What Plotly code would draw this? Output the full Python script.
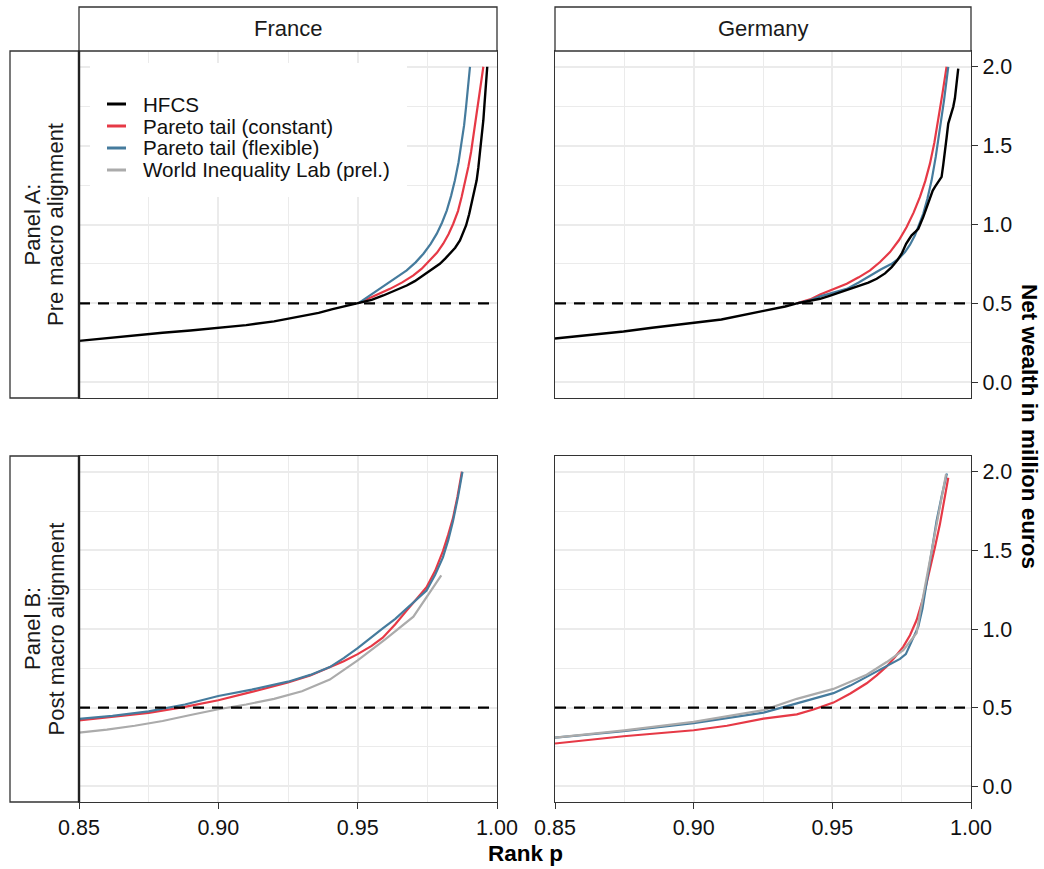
import plotly.graph_objects as go

W, H = 1044, 869

# ---------------- data ----------------
# Panel A (pre macro alignment) - France
fr_pre_hfcs_p = [0.850, 0.860, 0.870, 0.875, 0.880, 0.890, 0.900, 0.910, 0.920, 0.925, 0.930, 0.936,
                 0.941, 0.946, 0.9502, 0.9550, 0.9592, 0.9635, 0.9676, 0.9705, 0.9736, 0.9765, 0.9795,
                 0.9815, 0.9831, 0.9850, 0.9867, 0.9880, 0.9889, 0.9900, 0.9909, 0.9918, 0.9927, 0.9933,
                 0.9939, 0.9946, 0.9951, 0.9955, 0.9959, 0.9965]
fr_pre_hfcs_v = [0.262, 0.280, 0.297, 0.307, 0.314, 0.328, 0.343, 0.362, 0.386, 0.402, 0.418, 0.440,
                 0.463, 0.485, 0.500, 0.522, 0.550, 0.580, 0.613, 0.641, 0.677, 0.715, 0.751,
                 0.785, 0.815, 0.853, 0.899, 0.950, 0.994, 1.065, 1.132, 1.205, 1.280, 1.360,
                 1.450, 1.560, 1.661, 1.760, 1.852, 2.000]
fr_pre_const_p = [0.9502, 0.9560, 0.9616, 0.9660, 0.9700, 0.9730, 0.9760, 0.9785, 0.9807, 0.9826, 0.9843,
                  0.9860, 0.9873, 0.9886, 0.9897, 0.9907, 0.9915, 0.9925, 0.9933, 0.9942, 0.9951]
fr_pre_const_v = [0.500, 0.545, 0.592, 0.633, 0.677, 0.720, 0.772, 0.822, 0.878, 0.938, 1.005,
                  1.085, 1.175, 1.270, 1.365, 1.460, 1.556, 1.665, 1.767, 1.885, 2.000]
fr_pre_flex_p = [0.9502, 0.9550, 0.9592, 0.9635, 0.9676, 0.9708, 0.9736, 0.9762, 0.9784, 0.9803, 0.9820,
                 0.9835, 0.9849, 0.9862, 0.9873, 0.9882, 0.9889, 0.9896, 0.9903]
fr_pre_flex_v = [0.500, 0.558, 0.613, 0.660, 0.709, 0.760, 0.815, 0.877, 0.942, 1.013, 1.090,
                 1.180, 1.280, 1.395, 1.513, 1.630, 1.746, 1.870, 2.000]

# Panel A (pre macro alignment) - Germany
de_pre_hfcs_p = [0.850, 0.860, 0.8747, 0.885, 0.900, 0.910, 0.9252, 0.9330, 0.9372, 0.9420, 0.9456, 0.9490,
                 0.9528, 0.9565, 0.9600, 0.9630, 0.9660, 0.9690, 0.9714, 0.9735, 0.9750, 0.9758, 0.9766,
                 0.9776, 0.9786, 0.9800, 0.9810, 0.9828, 0.9840, 0.9852, 0.9862, 0.9870, 0.9882, 0.9894,
                 0.9900, 0.9906, 0.9912, 0.9918, 0.9928, 0.9936, 0.9942, 0.9946, 0.9950, 0.9954]
de_pre_hfcs_v = [0.277, 0.295, 0.322, 0.345, 0.375, 0.398, 0.452, 0.480, 0.500, 0.516, 0.529, 0.548,
                 0.571, 0.592, 0.613, 0.632, 0.656, 0.690, 0.730, 0.775, 0.815, 0.850, 0.878,
                 0.905, 0.931, 0.955, 0.973, 1.048, 1.110, 1.175, 1.215, 1.238, 1.270, 1.302,
                 1.380, 1.450, 1.550, 1.640, 1.700, 1.746, 1.800, 1.852, 1.920, 1.989]
de_pre_const_p = [0.9372, 0.9420, 0.9456, 0.9504, 0.9552, 0.9595, 0.9636, 0.9672, 0.9708, 0.9740, 0.9768,
                  0.9793, 0.9816, 0.9835, 0.9852, 0.9868, 0.9882, 0.9897, 0.9912]
de_pre_const_v = [0.500, 0.525, 0.556, 0.590, 0.624, 0.665, 0.709, 0.762, 0.825, 0.900, 0.984,
                  1.075, 1.175, 1.275, 1.386, 1.520, 1.661, 1.830, 2.000]
de_pre_flex_p = [0.9372, 0.9420, 0.9456, 0.9504, 0.9552, 0.9595, 0.9636, 0.9676, 0.9714, 0.9740, 0.9762,
                 0.9780, 0.9798, 0.9813, 0.9828, 0.9843, 0.9858, 0.9873, 0.9888, 0.9903, 0.9918]
de_pre_flex_v = [0.500, 0.520, 0.544, 0.566, 0.592, 0.632, 0.677, 0.716, 0.751, 0.785, 0.825,
                 0.872, 0.931, 0.995, 1.069, 1.165, 1.280, 1.430, 1.598, 1.790, 2.000]

# Panel B (post macro alignment) - France
fr_post_const_p = [0.850, 0.862, 0.875, 0.888, 0.900, 0.912, 0.925, 0.933, 0.940, 0.945, 0.950, 0.955,
                   0.959, 0.9635, 0.9675, 0.9712, 0.9747, 0.9778, 0.9806, 0.9825, 0.9842, 0.9858, 0.9874]
fr_post_const_v = [0.419, 0.440, 0.467, 0.505, 0.547, 0.600, 0.660, 0.705, 0.755, 0.795, 0.840, 0.893,
                   0.945, 1.030, 1.115, 1.190, 1.265, 1.370, 1.495, 1.600, 1.705, 1.840, 2.000]
fr_post_flex_p = [0.850, 0.862, 0.875, 0.888, 0.900, 0.912, 0.925, 0.933, 0.940, 0.945, 0.950, 0.955,
                  0.959, 0.9635, 0.9675, 0.9712, 0.9747, 0.9778, 0.9806, 0.9825, 0.9842, 0.9860, 0.9876]
fr_post_flex_v = [0.429, 0.448, 0.476, 0.520, 0.574, 0.615, 0.665, 0.708, 0.758, 0.815, 0.878, 0.945,
                  1.004, 1.065, 1.128, 1.185, 1.245, 1.345, 1.455, 1.565, 1.685, 1.840, 2.000]
fr_post_wil_p = [0.85, 0.86, 0.87, 0.88, 0.89, 0.90, 0.91, 0.92, 0.93, 0.94, 0.95, 0.96, 0.97, 0.98]
fr_post_wil_v = [0.341, 0.360, 0.385, 0.415, 0.453, 0.490, 0.520, 0.556, 0.604, 0.678, 0.800, 0.935,
                 1.078, 1.341]

# Panel B (post macro alignment) - Germany
de_post_const_p = [0.850, 0.8747, 0.900, 0.912, 0.9252, 0.9372, 0.9432, 0.9504, 0.9565, 0.9624, 0.9660,
                   0.9696, 0.9726, 0.9756, 0.9780, 0.9804, 0.9828, 0.9852, 0.9870, 0.9888, 0.9904, 0.9918]
de_post_const_v = [0.272, 0.318, 0.356, 0.385, 0.430, 0.457, 0.488, 0.532, 0.590, 0.655, 0.705,
                   0.762, 0.822, 0.888, 0.960, 1.057, 1.200, 1.373, 1.520, 1.667, 1.820, 1.962]
de_post_flex_p = [0.850, 0.8747, 0.900, 0.9252, 0.9372, 0.9504, 0.9565, 0.9624, 0.9696, 0.9744, 0.9765,
                  0.9780, 0.9795, 0.9810, 0.9825, 0.9840, 0.9858, 0.9876, 0.9895, 0.9913]
de_post_flex_v = [0.309, 0.350, 0.402, 0.468, 0.527, 0.592, 0.640, 0.697, 0.765, 0.810, 0.840,
                  0.900, 0.955, 1.015, 1.130, 1.300, 1.480, 1.688, 1.850, 1.989]
de_post_wil_p = [0.850, 0.875, 0.900, 0.9252, 0.9372, 0.9504, 0.9624, 0.9696, 0.9756, 0.9804, 0.9816,
                 0.9840, 0.9864, 0.9885, 0.9906, 0.9910]
de_post_wil_v = [0.309, 0.355, 0.410, 0.484, 0.556, 0.619, 0.709, 0.790, 0.865, 0.975, 1.099,
                 1.320, 1.541, 1.740, 1.941, 1.985]

threshold = 0.5

series_names = ["HFCS", "Pareto tail (constant)", "Pareto tail (flexible)", "World Inequality Lab (prel.)"]
colors = ["#000000", "#E63946", "#457B9D", "#ABABAB"]
countries = ["France", "Germany"]
panel_lines = [("Panel A:", "Pre macro alignment"), ("Panel B:", "Post macro alignment")]
x_ticks = [0.85, 0.90, 0.95, 1.00]
y_ticks = [0.0, 0.5, 1.0, 1.5, 2.0]

# ---------------- layout geometry (pixels) ----------------
FONT = "Liberation Sans, Arial, Helvetica, sans-serif"
col_px = [(79, 497), (555, 971)]
row_px = [(51, 398), (456, 802)]
strip_top = 7
strip_left = 10


def px_x(v):
    return v / W


def px_y(v):
    return 1 - v / H


fig = go.Figure()

panel_data = {
    (0, 0): [(1, fr_pre_const_p, fr_pre_const_v), (2, fr_pre_flex_p, fr_pre_flex_v),
             (0, fr_pre_hfcs_p, fr_pre_hfcs_v)],
    (0, 1): [(1, de_pre_const_p, de_pre_const_v), (2, de_pre_flex_p, de_pre_flex_v),
             (0, de_pre_hfcs_p, de_pre_hfcs_v)],
    (1, 0): [(1, fr_post_const_p, fr_post_const_v), (2, fr_post_flex_p, fr_post_flex_v),
             (3, fr_post_wil_p, fr_post_wil_v)],
    (1, 1): [(1, de_post_const_p, de_post_const_v), (2, de_post_flex_p, de_post_flex_v),
             (3, de_post_wil_p, de_post_wil_v)],
}

TICK_SIZE = 21.5
shapes = []
annotations = []
axis_idx = 0
for r in range(2):
    for c in range(2):
        axis_idx += 1
        sfx = "" if axis_idx == 1 else str(axis_idx)
        xa, ya = "x" + sfx, "y" + sfx
        x0, x1 = col_px[c]
        y0, y1 = row_px[r]
        for si, p, v in panel_data[(r, c)]:
            fig.add_trace(go.Scatter(
                x=p, y=v, mode="lines", name=series_names[si],
                line=dict(color=colors[si], width=2.4 if si == 0 else 2.2),
                xaxis=xa, yaxis=ya, showlegend=False, hoverinfo="skip"))
        fig.add_trace(go.Scatter(
            x=[x_ticks[0], x_ticks[-1]], y=[threshold, threshold], mode="lines",
            line=dict(color="#000000", width=2.2, dash="11px,8px"),
            xaxis=xa, yaxis=ya, showlegend=False, hoverinfo="skip"))

        bottom = (r == 1)
        right = (c == 1)
        fig.update_layout(**{
            ("xaxis" + sfx): dict(
                domain=[px_x(x0), px_x(x1)], anchor=ya, range=[0.85, 1.0],
                tickvals=x_ticks, ticktext=[f"{t:.2f}" for t in x_ticks],
                showticklabels=bottom, ticks="outside" if bottom else "",
                ticklen=6, tickwidth=1.2, tickcolor="#333333",
                tickfont=dict(size=TICK_SIZE, color="#111111", family=FONT),
                showgrid=True, gridcolor="#EBEBEB", gridwidth=2,
                minor=dict(dtick=0.025, tick0=0.85, showgrid=True, gridcolor="#EBEBEB", gridwidth=1),
                showline=True, mirror=True, linecolor="#333333", linewidth=1.2,
                zeroline=False, fixedrange=True, automargin=False),
            ("yaxis" + sfx): dict(
                domain=[px_y(y1), px_y(y0)], anchor=xa, range=[-0.1, 2.1],
                tickvals=y_ticks, ticktext=[f"{t:.1f}" for t in y_ticks],
                side="right", showticklabels=right, ticks="outside" if right else "",
                ticklen=6, tickwidth=1.2, tickcolor="#333333",
                tickfont=dict(size=TICK_SIZE, color="#111111", family=FONT),
                showgrid=True, gridcolor="#EBEBEB", gridwidth=2,
                minor=dict(dtick=0.25, tick0=0, showgrid=True, gridcolor="#EBEBEB", gridwidth=1),
                showline=True, mirror=True, linecolor="#333333", linewidth=1.2,
                zeroline=False, fixedrange=True, automargin=False),
        })

# top strips
for c in range(2):
    x0, x1 = col_px[c]
    shapes.append(dict(type="rect", xref="paper", yref="paper",
                       x0=px_x(x0), x1=px_x(x1), y0=px_y(row_px[0][0]), y1=px_y(strip_top),
                       fillcolor="white", line=dict(color="#333333", width=1.3), layer="above"))
    annotations.append(dict(text=countries[c], xref="paper", yref="paper",
                            x=px_x((x0 + x1) / 2), y=px_y((strip_top + row_px[0][0]) / 2),
                            xanchor="center", yanchor="middle", showarrow=False,
                            font=dict(size=22, color="#1a1a1a", family=FONT)))
# left strips
for r in range(2):
    y0, y1 = row_px[r]
    shapes.append(dict(type="rect", xref="paper", yref="paper",
                       x0=px_x(strip_left), x1=px_x(col_px[0][0]), y0=px_y(y1), y1=px_y(y0),
                       fillcolor="white", line=dict(color="#333333", width=1.3), layer="above"))
    shapes.append(dict(type="line", xref="paper", yref="paper",
                       x0=px_x(col_px[0][0]), x1=px_x(col_px[0][0]), y0=px_y(y1), y1=px_y(y0),
                       line=dict(color="#222222", width=2.4), layer="above"))
    for li, (txt, lx) in enumerate(zip(panel_lines[r], (32, 55.5))):
        annotations.append(dict(text=txt, xref="paper", yref="paper",
                                x=px_x(lx), y=px_y((y0 + y1) / 2),
                                xanchor="center", yanchor="middle", showarrow=False, textangle=-90,
                                font=dict(size=22, color="#1a1a1a", family=FONT)))

# legend (inside the top-left panel)
leg_left, leg_right, leg_top, leg_bottom = 90, 407, 63, 197
shapes.append(dict(type="rect", xref="paper", yref="paper",
                   x0=px_x(leg_left), x1=px_x(leg_right), y0=px_y(leg_bottom), y1=px_y(leg_top),
                   fillcolor="white", line=dict(width=0), layer="above"))
row_y = [104, 126, 148, 170]
for i, name in enumerate(series_names):
    shapes.append(dict(type="line", xref="paper", yref="paper",
                       x0=px_x(107), x1=px_x(126), y0=px_y(row_y[i]), y1=px_y(row_y[i]),
                       line=dict(color=colors[i], width=3), layer="above"))
    annotations.append(dict(text=name, xref="paper", yref="paper",
                            x=px_x(141), y=px_y(row_y[i]), xanchor="left", yanchor="middle",
                            showarrow=False, font=dict(size=20.6, color="#111111", family=FONT)))

# axis titles
annotations.append(dict(text="<b>Rank p</b>", xref="paper", yref="paper",
                        x=px_x(525.5), y=px_y(853), xanchor="center", yanchor="middle",
                        showarrow=False, font=dict(size=22.5, color="#000000", family=FONT)))
annotations.append(dict(text="<b>Net wealth in million euros</b>", xref="paper", yref="paper",
                        x=px_x(1030), y=px_y(426), xanchor="center", yanchor="middle",
                        showarrow=False, textangle=90,
                        font=dict(size=22.5, color="#000000", family=FONT)))

fig.update_layout(
    width=W, height=H,
    margin=dict(l=0, r=0, t=0, b=0, pad=0, autoexpand=False),
    paper_bgcolor="white", plot_bgcolor="white",
    showlegend=False,
    shapes=shapes, annotations=annotations,
    font=dict(family=FONT),
)

fig.write_html("out.html", config={"displayModeBar": False},
               post_script="document.body.style.margin='0';document.body.style.overflow='hidden';")
